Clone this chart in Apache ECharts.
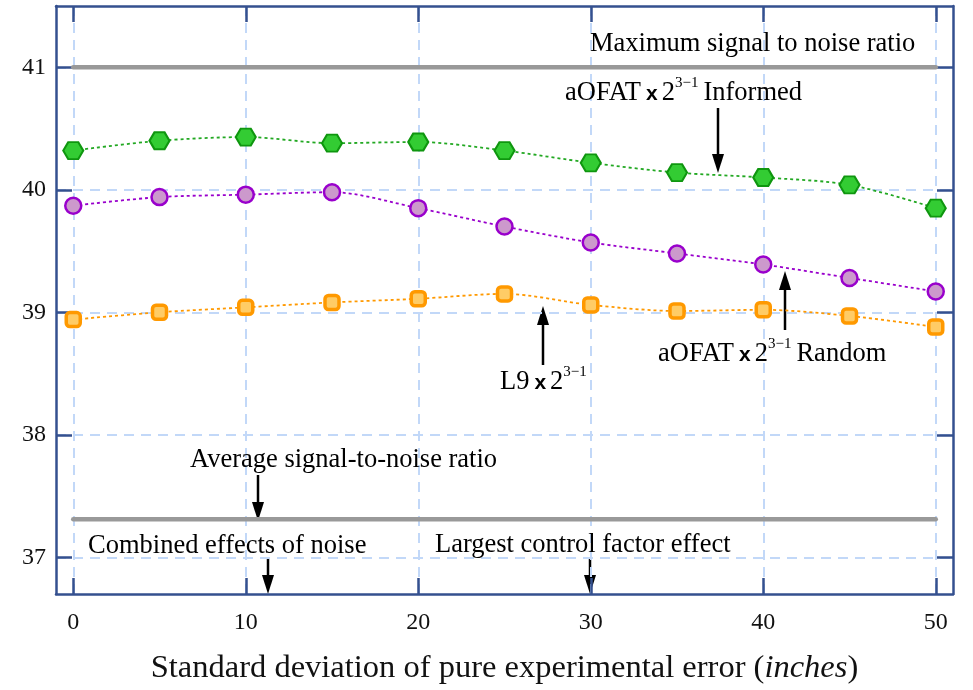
<!DOCTYPE html>
<html>
<head>
<meta charset="utf-8">
<script src="https://cdn.jsdelivr.net/npm/echarts@6/dist/echarts.min.js"></script>
<style>
html, body { margin: 0; padding: 0; background: #fff; }
#chart { width: 973px; height: 690px; }
</style>
</head>
<body>
<div id="chart"></div>
<script>
// pure error standard deviation (inches)
const xValues = [0, 5, 10, 15, 20, 25, 30, 35, 40, 45, 50];
const informed = [40.32, 40.40, 40.43, 40.38, 40.39, 40.32, 40.22, 40.14, 40.10, 40.04, 39.85];
const random = [39.87, 39.94, 39.96, 39.98, 39.85, 39.70, 39.57, 39.48, 39.39, 39.28, 39.17];
const l9 = [38.94, 39.00, 39.04, 39.08, 39.11, 39.15, 39.06, 39.01, 39.02, 38.97, 38.88];
const maxSN = 41;
const avgSN = 37.31;
const xTicks = [0, 10, 20, 30, 40, 50];
const yTicks = [37, 38, 39, 40, 41];

const frame = '#34508f';
const gridCol = '#c2d8f8';
const serif = '"Liberation Serif", "DejaVu Serif", serif';

function pairs(ys) {
  return xValues.map((x, i) => [x, ys[i]]);
}

const hexagon = 'path://M-1,0 L-0.5,-0.866 L0.5,-0.866 L1,0 L0.5,0.866 L-0.5,0.866 Z';

const rich = {
  t: { fontFamily: serif, fontSize: 26.5, color: '#111', lineHeight: 32, verticalAlign: 'bottom' },
  x: { fontFamily: '"Liberation Sans", sans-serif', fontWeight: 'bold', fontSize: 21, color: '#111', lineHeight: 32, verticalAlign: 'bottom', padding: [0, 4, 2, 5] },
  s: { fontFamily: serif, fontSize: 15, color: '#111', verticalAlign: 'top', lineHeight: 32, padding: [1, 5, 0, 0] }
};

function label(text, x, y) {
  return {
    type: 'text', left: x, top: y, z: 100,
    style: { text: text, rich: rich }
  };
}

function arrow(x, y1, y2) {
  const dir = y2 > y1 ? 1 : -1;
  const head = 19;
  return {
    type: 'group', z: 100,
    children: [
      { type: 'line', shape: { x1: x, y1: y1, x2: x, y2: y2 - dir * head }, style: { stroke: '#000', lineWidth: 2.5 } },
      { type: 'polygon', shape: { points: [[x - 6, y2 - dir * head], [x + 6, y2 - dir * head], [x, y2]] }, style: { fill: '#000' } }
    ]
  };
}

const chart = echarts.init(document.getElementById('chart'));

const axisCommon = {
  type: 'value',
  axisLine: { show: true, onZero: false, lineStyle: { color: frame, width: 2.5 } },
  axisTick: { show: true, inside: true, length: 16, lineStyle: { color: frame, width: 2.5 } }
};

chart.setOption({
  backgroundColor: '#fff',
  animation: false,
  grid: { left: 56, right: 20, top: 6, bottom: 94 },
  xAxis: [{
    ...axisCommon,
    min: -1,
    max: 51,
    position: 'bottom',
    axisTick: { ...axisCommon.axisTick, customValues: xTicks },
    axisLabel: { customValues: xTicks, fontFamily: serif, fontSize: 24, color: '#111', margin: 17 },
    splitLine: { show: true, lineStyle: { color: gridCol, width: 2, type: [10, 7] } },
    name: '{n|Standard deviation of pure experimental error (}{i|inches}{n|)}',
    nameLocation: 'middle',
    nameGap: 58,
    nameTextStyle: {
      rich: {
        n: { fontFamily: serif, fontSize: 32.5, color: '#111' },
        i: { fontFamily: serif, fontSize: 32.5, fontStyle: 'italic', color: '#111' }
      }
    }
  }, {
    ...axisCommon,
    min: -1,
    max: 51,
    position: 'top',
    axisTick: { ...axisCommon.axisTick, customValues: xTicks },
    axisLabel: { show: false },
    splitLine: { show: false }
  }],
  yAxis: [{
    ...axisCommon,
    min: 36.7,
    max: 41.5,
    position: 'left',
    axisTick: { ...axisCommon.axisTick, customValues: yTicks },
    axisLabel: { customValues: yTicks, fontFamily: serif, fontSize: 24, color: '#111', margin: 10 },
    splitLine: { show: true, lineStyle: { color: gridCol, width: 2, type: [10, 7] } }
  }, {
    ...axisCommon,
    min: 36.7,
    max: 41.5,
    position: 'right',
    axisTick: { ...axisCommon.axisTick, customValues: yTicks },
    axisLabel: { show: false },
    splitLine: { show: false }
  }],
  series: [{
    name: 'Maximum',
    type: 'line',
    data: [[xValues[0], maxSN], [xValues[xValues.length - 1], maxSN]],
    symbol: 'none',
    lineStyle: { color: '#999', width: 4.5, cap: 'round' },
    z: 3
  }, {
    name: 'Average',
    type: 'line',
    data: [[xValues[0], avgSN], [xValues[xValues.length - 1], avgSN]],
    symbol: 'none',
    lineStyle: { color: '#999', width: 4.5, cap: 'round' },
    z: 3
  }, {
    name: 'aOFAT Informed',
    type: 'line',
    data: pairs(informed),
    smooth: 0.3,
    symbol: hexagon,
    symbolSize: [20, 17],
    lineStyle: { color: '#22a822', width: 1.8, type: [3, 3] },
    itemStyle: { color: '#33cc33', borderColor: '#0f960f', borderWidth: 2 },
    z: 5
  }, {
    name: 'aOFAT Random',
    type: 'line',
    data: pairs(random),
    smooth: 0.3,
    symbol: 'circle',
    symbolSize: 16,
    lineStyle: { color: '#9900cc', width: 1.8, type: [3, 3] },
    itemStyle: { color: '#cc99cc', borderColor: '#9900cc', borderWidth: 2.5 },
    z: 5
  }, {
    name: 'L9',
    type: 'line',
    data: pairs(l9),
    smooth: 0.3,
    symbol: 'roundRect',
    symbolSize: 14,
    lineStyle: { color: '#ff9900', width: 1.8, type: [3, 3] },
    itemStyle: { color: '#ffcc66', borderColor: '#ff9900', borderWidth: 3.5 },
    z: 5
  }],
  graphic: [
    label('{t|Maximum signal to noise ratio}', 590, 31),
    label('{t|aOFAT}{x|x}{t|2}{s|3−1}{t|Informed}', 565, 75),
    arrow(718, 108, 173),
    label('{t|aOFAT}{x|x}{t|2}{s|3−1}{t|Random}', 658, 336),
    arrow(785, 330, 271),
    label('{t|L9}{x|x}{t|2}{s|3−1}', 500, 364),
    arrow(543, 365, 306),
    label('{t|Average signal-to-noise ratio}', 190, 447),
    arrow(258, 475, 521),
    label('{t|Combined effects of noise}', 88, 533),
    arrow(268, 558, 594),
    label('{t|Largest control factor effect}', 435, 532),
    arrow(590, 558, 594)
  ]
});
</script>
</body>
</html>
